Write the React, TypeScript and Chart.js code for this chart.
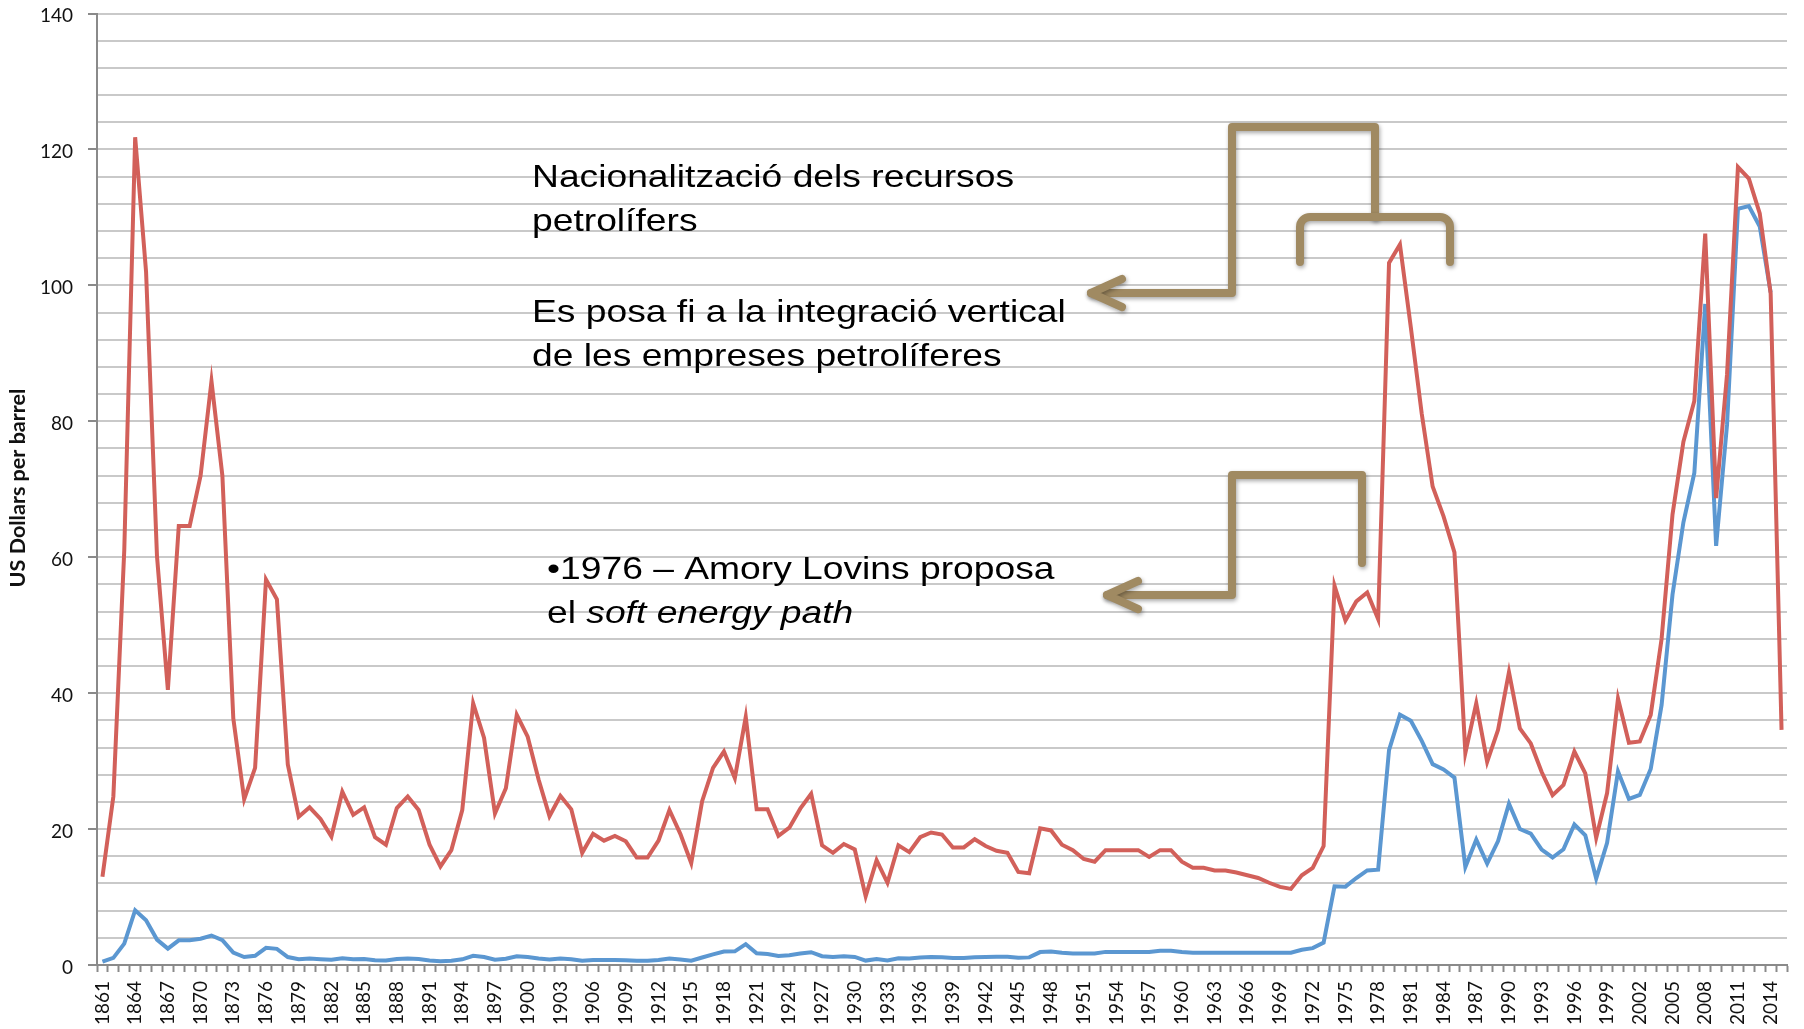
import React, { useEffect, useRef } from 'react';
import { Chart, registerables } from 'chart.js';

Chart.register(...registerables);

// Categories: one per year, 1861 to 2015
const years: string[] = Array.from({ length: 155 }, (_, i) => String(1861 + i));

// Crude oil price, money of the day (US $/bbl)
const moneyOfTheDay: (number | null)[] = [
  0.49, 1.05, 3.15, 8.06, 6.59, 3.74, 2.41, 3.63, 3.64, 3.86,
  4.34, 3.64, 1.83, 1.17, 1.35, 2.52, 2.38, 1.17, 0.86, 0.95,
  0.86, 0.78, 1.0, 0.84, 0.88, 0.71, 0.67, 0.88, 0.94, 0.87,
  0.67, 0.56, 0.64, 0.84, 1.36, 1.18, 0.79, 0.91, 1.29, 1.19,
  0.96, 0.8, 0.94, 0.86, 0.62, 0.73, 0.72, 0.72, 0.7, 0.61,
  0.61, 0.74, 0.95, 0.81, 0.64, 1.1, 1.56, 1.98, 2.01, 3.07,
  1.73, 1.61, 1.34, 1.43, 1.68, 1.88, 1.3, 1.17, 1.27, 1.19,
  0.65, 0.87, 0.67, 1.0, 0.97, 1.09, 1.18, 1.13, 1.02, 1.02,
  1.14, 1.19, 1.2, 1.21, 1.05, 1.12, 1.9, 1.99, 1.8, 1.71,
  1.71, 1.71, 1.93, 1.93, 1.93, 1.93, 1.9, 2.08, 2.08, 1.9,
  1.8, 1.8, 1.8, 1.8, 1.8, 1.8, 1.8, 1.8, 1.8, 1.8,
  2.24, 2.48, 3.29, 11.58, 11.53, 12.8, 13.92, 14.02, 31.61, 36.83,
  35.93, 32.97, 29.55, 28.78, 27.56, 14.43, 18.44, 14.92, 18.23, 23.73,
  20.0, 19.32, 16.97, 15.82, 17.02, 20.67, 19.09, 12.72, 17.97, 28.5,
  24.44, 25.02, 28.83, 38.27, 54.52, 65.14, 72.39, 97.26, 61.67, 79.5,
  111.26, 111.67, 108.66, 98.95, null,
];

// Crude oil price in constant 2014 dollars (US $/bbl)
const dollars2014: number[] = [
  13.0, 24.8, 61.0, 121.8, 102.0, 60.2, 40.5, 64.6, 64.6, 72.0,
  85.9, 72.0, 36.3, 24.4, 29.0, 56.7, 53.8, 29.5, 21.8, 23.2,
  21.5, 18.9, 25.5, 22.1, 23.2, 18.8, 17.7, 23.1, 24.8, 22.8,
  17.7, 14.5, 16.9, 22.8, 38.5, 33.4, 22.3, 26.0, 36.8, 33.6,
  27.3, 21.9, 24.9, 22.9, 16.5, 19.3, 18.3, 19.0, 18.2, 15.8,
  15.8, 18.3, 22.8, 19.3, 15.0, 24.1, 29.0, 31.4, 27.5, 36.5,
  22.9, 22.9, 19.0, 20.2, 23.0, 25.2, 17.6, 16.5, 17.8, 17.0,
  10.1, 15.4, 12.1, 17.6, 16.6, 18.8, 19.5, 19.2, 17.3, 17.3,
  18.5, 17.5, 16.8, 16.5, 13.7, 13.5, 20.1, 19.8, 17.7, 16.9,
  15.6, 15.2, 16.9, 16.9, 16.9, 16.9, 15.9, 16.9, 16.9, 15.2,
  14.3, 14.3, 13.9, 13.9, 13.6, 13.2, 12.8, 12.1, 11.5, 11.2,
  13.2, 14.3, 17.5, 55.8, 50.7, 53.5, 54.8, 50.9, 103.3, 106.0,
  93.8, 81.1, 70.4, 66.0, 60.7, 31.2, 38.5, 29.9, 34.6, 43.1,
  34.8, 32.6, 28.4, 25.0, 26.5, 31.4, 28.2, 18.7, 25.3, 39.2,
  32.7, 32.9, 36.8, 48.0, 66.3, 77.0, 83.0, 107.6, 68.7, 86.9,
  117.4, 115.7, 110.6, 98.8, 34.6,
];

// Axis tick labels
const yLabelValues: number[] = [0, 20, 40, 60, 80, 100, 120, 140];
const xLabelEvery = 3;
const yAxisTitle = 'US Dollars per barrel';

// Callout texts
const noteUpper: string[] = ['Nacionalització dels recursos', 'petrolífers'];
const noteMiddle: string[] = ['Es posa fi a la integració vertical', 'de les empreses petrolíferes'];
const noteLowerLine1 = '\u20221976 \u2013 Amory Lovins proposa';
const noteLowerLine2Plain = 'el ';
const noteLowerLine2Italic = 'soft energy path';

const RED = '#d2605a';
const BLUE = '#5b97d1';
const BROWN = '#a08a62';
const AXIS = '#8a8a8a';
const GRID = '#c9c9c9';
const TEXT = '#111111';
const TICK_FONT = 'Lato';
const NOTE_FONT = '"Liberation Sans", Arial, sans-serif';

const overlayPlugin = {
  id: 'overlay',
  afterDraw(chart: any) {
    const ctx: CanvasRenderingContext2D = chart.ctx;
    ctx.save();

    // y axis title, sized to its span in the reference (~199px)
    ctx.save();
    ctx.font = `bold 20px ${TICK_FONT}`;
    const tSize = (20 * 199) / ctx.measureText(yAxisTitle).width;
    ctx.translate(18, 488);
    ctx.rotate(-Math.PI / 2);
    ctx.font = `bold ${tSize.toFixed(2)}px ${TICK_FONT}`;
    ctx.fillStyle = TEXT;
    ctx.textAlign = 'center';
    ctx.textBaseline = 'middle';
    ctx.fillText(yAxisTitle, 0, 0);
    ctx.restore();

    // callout connectors
    ctx.save();
    ctx.strokeStyle = BROWN;
    ctx.lineWidth = 8;
    ctx.lineJoin = 'round';
    ctx.lineCap = 'round';
    ctx.shadowColor = 'rgba(0,0,0,0.35)';
    ctx.shadowBlur = 4;
    ctx.shadowOffsetX = 1;
    ctx.shadowOffsetY = 2;
    const poly = (pts: number[][]) => {
      ctx.beginPath();
      ctx.moveTo(pts[0][0], pts[0][1]);
      for (let i = 1; i < pts.length; i++) ctx.lineTo(pts[i][0], pts[i][1]);
      ctx.stroke();
    };
    // upper
    poly([[1091, 293], [1232, 293], [1232, 127], [1375, 127], [1375, 217]]);
    poly([[1122, 279], [1091, 293], [1122, 307]]);
    ctx.beginPath();
    ctx.moveTo(1300, 262);
    ctx.lineTo(1300, 227);
    ctx.arcTo(1300, 217, 1310, 217, 10);
    ctx.lineTo(1440, 217);
    ctx.arcTo(1450, 217, 1450, 227, 10);
    ctx.lineTo(1450, 262);
    ctx.stroke();
    // lower
    poly([[1107, 595], [1232, 595], [1232, 475], [1362, 475], [1362, 563]]);
    poly([[1138, 581], [1107, 595], [1138, 609]]);
    ctx.restore();

    // callout texts
    const FS = 32;
    ctx.font = `${FS}px ${NOTE_FONT}`;
    const SX = 482 / ctx.measureText(noteUpper[0]).width;
    ctx.fillStyle = '#000';
    ctx.textAlign = 'left';
    ctx.textBaseline = 'alphabetic';
    const drawText = (text: string, x: number, y: number, italic = false) => {
      ctx.save();
      ctx.font = `${italic ? 'italic ' : ''}${FS}px ${NOTE_FONT}`;
      const w = ctx.measureText(text).width * SX;
      ctx.translate(x, y);
      ctx.scale(SX, 1);
      ctx.fillText(text, 0, 0);
      ctx.restore();
      return w;
    };
    drawText(noteUpper[0], 532, 187);
    drawText(noteUpper[1], 532, 231);
    drawText(noteMiddle[0], 532, 322);
    drawText(noteMiddle[1], 532, 366);
    drawText(noteLowerLine1, 547, 579);
    const w = drawText(noteLowerLine2Plain, 547, 623);
    drawText(noteLowerLine2Italic, 547 + w, 623, true);

    ctx.restore();
  },
};

export default function App() {
  const ref = useRef<HTMLCanvasElement | null>(null);

  useEffect(() => {
    if (!ref.current) return;
    const tickFont = { family: TICK_FONT, size: 19 };

    const chart = new Chart(ref.current, {
      type: 'line',
      data: {
        labels: years,
        datasets: [
          {
            label: 'US dollars 2014',
            data: dollars2014,
            borderColor: RED,
            backgroundColor: RED,
            borderWidth: 4,
            pointRadius: 0,
            tension: 0,
            order: 0,
          },
          {
            label: 'Money of the day',
            data: moneyOfTheDay,
            borderColor: BLUE,
            backgroundColor: BLUE,
            borderWidth: 4,
            pointRadius: 0,
            tension: 0,
            order: 1,
          },
        ],
      },
      plugins: [overlayPlugin],
      options: {
        responsive: false,
        animation: false,
        devicePixelRatio: 1,
        layout: { padding: { top: 13.5, right: 17, bottom: 0, left: 0 } },
        plugins: {
          legend: { display: false },
          tooltip: { enabled: false },
          title: { display: false },
        },
        scales: {
          x: {
            type: 'category',
            offset: true,
            grid: {
              display: true,
              drawOnChartArea: false,
              drawTicks: true,
              offset: true,
              tickLength: 7,
              tickWidth: 2,
              tickColor: AXIS,
            },
            border: { display: true, color: AXIS, width: 2 },
            ticks: {
              autoSkip: false,
              maxRotation: 90,
              minRotation: 90,
              padding: 9,
              color: TEXT,
              font: tickFont,
              callback: (_v: any, i: number) => (i % xLabelEvery === 0 ? years[i] : ''),
            },
            afterFit: (s: any) => {
              s.height = 64;
              s.paddingLeft = 0;
              s.paddingRight = 0;
            },
          },
          y: {
            min: 0,
            max: 140,
            ticks: {
              stepSize: 4,
              maxTicksLimit: 100,
              autoSkip: false,
              padding: 15,
              labelOffset: 2.5,
              color: TEXT,
              font: tickFont,
              callback: (v: any) => (yLabelValues.includes(Number(v)) ? String(v) : ''),
            },
            grid: {
              color: (c: any) => (c.tick && c.tick.value === 0 ? 'rgba(0,0,0,0)' : GRID),
              lineWidth: 2,
              tickLength: 9,
              tickWidth: 2,
              tickColor: (c: any) =>
                c.tick && yLabelValues.includes(c.tick.value) ? AXIS : 'rgba(0,0,0,0)',
            },
            border: { display: true, color: AXIS, width: 2 },
            afterFit: (s: any) => {
              s.width = 97;
              s.paddingTop = 0;
              s.paddingBottom = 0;
            },
          },
        },
      },
    } as any);
    return () => chart.destroy();
  }, []);

  return (
    <div
      style={{
        position: 'absolute',
        left: 0,
        top: 0,
        width: 1804,
        height: 1029,
        background: '#ffffff',
      }}
    >
      <canvas ref={ref} width={1804} height={1029} style={{ display: 'block', width: 1804, height: 1029 }} />
    </div>
  );
}
